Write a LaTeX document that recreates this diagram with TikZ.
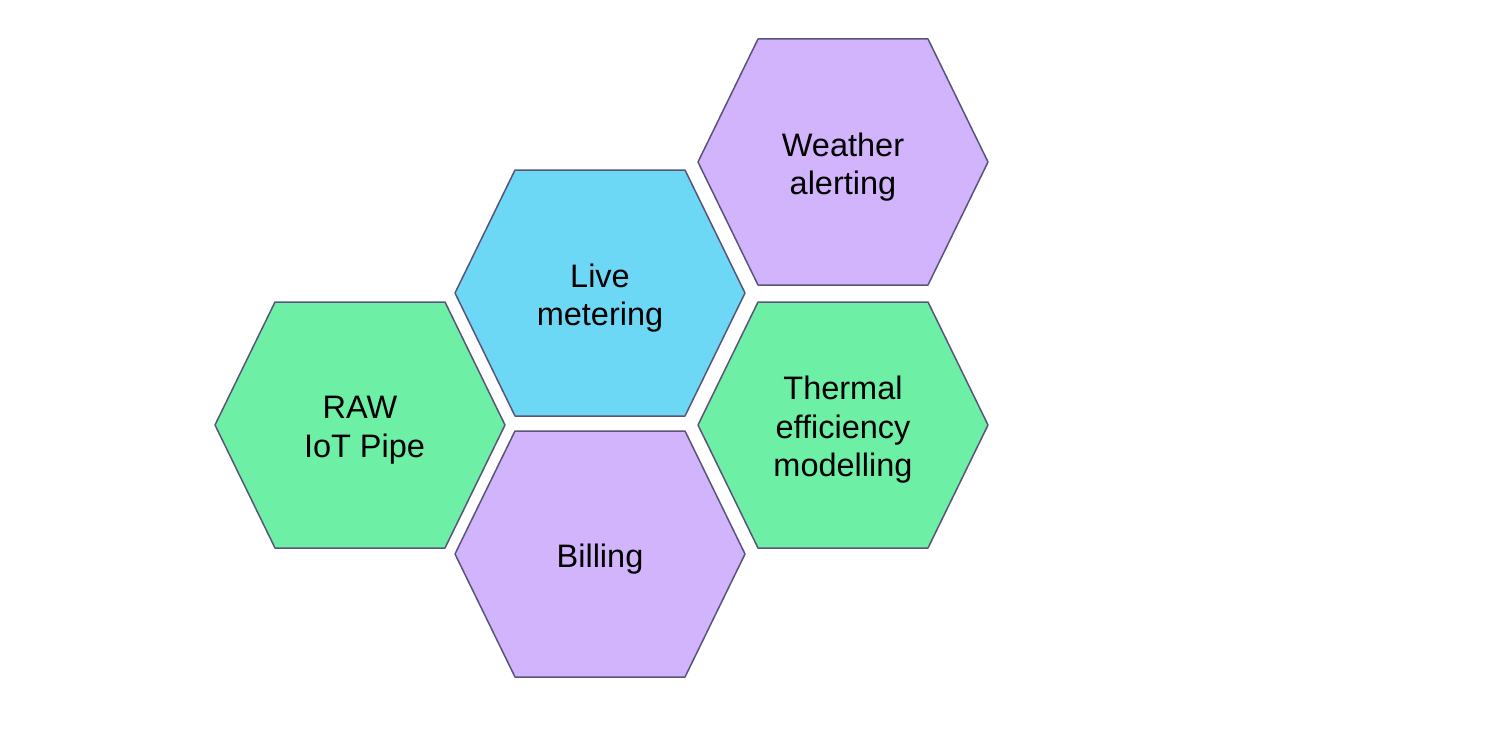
\documentclass[tikz,border=0pt]{standalone}
\usepackage{fontspec}
\setmainfont{Liberation Sans}
\usetikzlibrary{positioning}

\definecolor{cellgreen}{RGB}{110,239,166}
\definecolor{cellblue}{RGB}{109,216,245}
\definecolor{cellpurple}{RGB}{210,180,252}
\definecolor{celledge}{RGB}{88,84,122}

% one hexagonal cell: name, centre, fill, text
\newcommand{\hexcell}[4]{%
  \coordinate (#1) at (#2);
  \filldraw[cell, fill=#3] (#1) ++(-145,0) -- ++(60,-123) -- ++(170,0)
    -- ++(60,123) -- ++(-60,123) -- ++(-170,0) -- cycle;
  \node[celltext] (#1 text) at (#1) {#4};
}

\begin{document}
\begin{tikzpicture}
  [x=1pt,y=-1pt,
  cell/.style={draw=celledge,line width=1.5pt,line join=round},
  celltext/.style={font=\fontsize{32.5}{38.5}\selectfont,align=center,
                   inner sep=0pt,yshift=-5pt}]
  \useasboundingbox (0,0) rectangle (1485,752);

  \hexcell{raw}{360,425}{cellgreen}{RAW\\\ IoT Pipe}
  \hexcell{live}{600,293}{cellblue}{Live\\metering}
  \hexcell{billing}{600,554}{cellpurple}{Billing}
  \hexcell{weather}{843,162}{cellpurple}{Weather\\alerting}
  \hexcell{thermal}{843,425}{cellgreen}{Thermal\\efficiency\\modelling}

\end{tikzpicture}
\end{document}
